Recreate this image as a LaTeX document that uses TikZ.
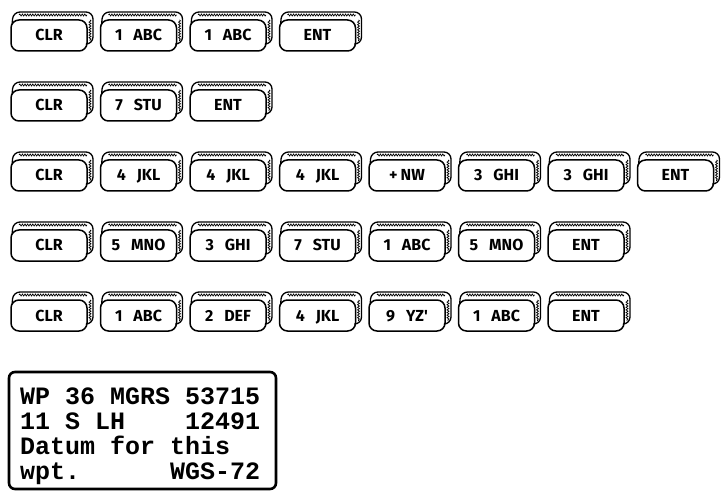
\documentclass[tikz,border=0pt]{standalone}
\usepackage{fontspec}
\newfontfamily\keyfont{Fira Sans}
\newfontfamily\screenfont{Liberation Mono}
\usepackage{tikz}
\usetikzlibrary{calc, decorations.pathmorphing}

\tikzstyle{keyface} = [
  draw, line width=1.5pt, rounded corners=8pt, fill=white,
  minimum width=76pt, minimum height=31pt,
  inner sep=0pt, outer sep=0pt, text depth=0pt, text height=11pt,
  font=\keyfont\bfseries\fontsize{16}{16}\selectfont
]
\tikzstyle{keyedge} = [
  line width=1.3pt, rounded corners=7pt
]
\tikzstyle{keytexture} = [
  line width=0.7pt, decorate,
  decoration={snake, amplitude=1pt, segment length=2.6pt}
]
\tikzstyle{screen} = [
  draw, line width=2.6pt, rounded corners=6pt,
  minimum width=267pt, minimum height=117pt,
  inner sep=0pt, outer sep=0pt
]
\tikzstyle{screentext} = [
  align=left, inner sep=0pt,
  font=\screenfont\bfseries\fontsize{25}{25}\selectfont
]

% key label: number, gap, letters
\newcommand{\kl}[2]{#1\hspace{11pt}#2}

% one key: face node plus the raised back edge
\newcommand{\keycap}[3]{%
  \node[keyface] (#1) at #2 {#3};
  \draw[keyedge] ($(#1.north west)+(1.2,-4)$) -- ($(#1.north west)+(2,8)$)
    -- ($(#1.north east)+(6,8)$) -- ($(#1.south east)+(6,7)$)
    -- ($(#1.south east)+(0,7)$);
  \draw[keytexture] ($(#1.north west)+(8,5)$) -- ($(#1.north east)+(0,5)$);
  \draw[keytexture] ($(#1.north east)+(3,0)$) -- ($(#1.south east)+(3,10)$);
}

\begin{document}
\begin{tikzpicture}[x=1pt, y=1pt]

  \useasboundingbox (0,0) rectangle (721,-492);

  % ── Key sequences ─────────────────────────────────────
  \foreach \lbl [count=\i from 0] in {CLR, \kl{1}{ABC}, \kl{1}{ABC}, ENT}
    {\keycap{ra\i}{(\i*89.5+49,-35.5)}{\lbl}}

  \foreach \lbl [count=\i from 0] in {CLR, \kl{7}{STU}, ENT}
    {\keycap{rb\i}{(\i*89.5+49,-105.5)}{\lbl}}

  \foreach \lbl [count=\i from 0] in {CLR, \kl{4}{JKL}, \kl{4}{JKL},
      \kl{4}{JKL}, +\hspace{3pt}NW, \kl{3}{GHI}, \kl{3}{GHI}, ENT}
    {\keycap{rc\i}{(\i*89.5+49,-175.5)}{\lbl}}

  \foreach \lbl [count=\i from 0] in {CLR, \kl{5}{MNO}, \kl{3}{GHI},
      \kl{7}{STU}, \kl{1}{ABC}, \kl{5}{MNO}, ENT}
    {\keycap{rd\i}{(\i*89.5+49,-245.5)}{\lbl}}

  \foreach \lbl [count=\i from 0] in {CLR, \kl{1}{ABC}, \kl{2}{DEF},
      \kl{4}{JKL}, \kl{9}{YZ'}, \kl{1}{ABC}, ENT}
    {\keycap{re\i}{(\i*89.5+49,-315.5)}{\lbl}}

  % ── Display ───────────────────────────────────────────
  \node[screen, anchor=north west] (screen) at (9,-372) {};
  \node[screentext, anchor=north west] (readout)
    at ($(screen.north west)+(11,-16)$)
    {WP 36 MGRS 53715\\
     11 S LH~~~~12491\\
     Datum for this\\
     wpt.~~~~~~WGS-72};

\end{tikzpicture}
\end{document}
